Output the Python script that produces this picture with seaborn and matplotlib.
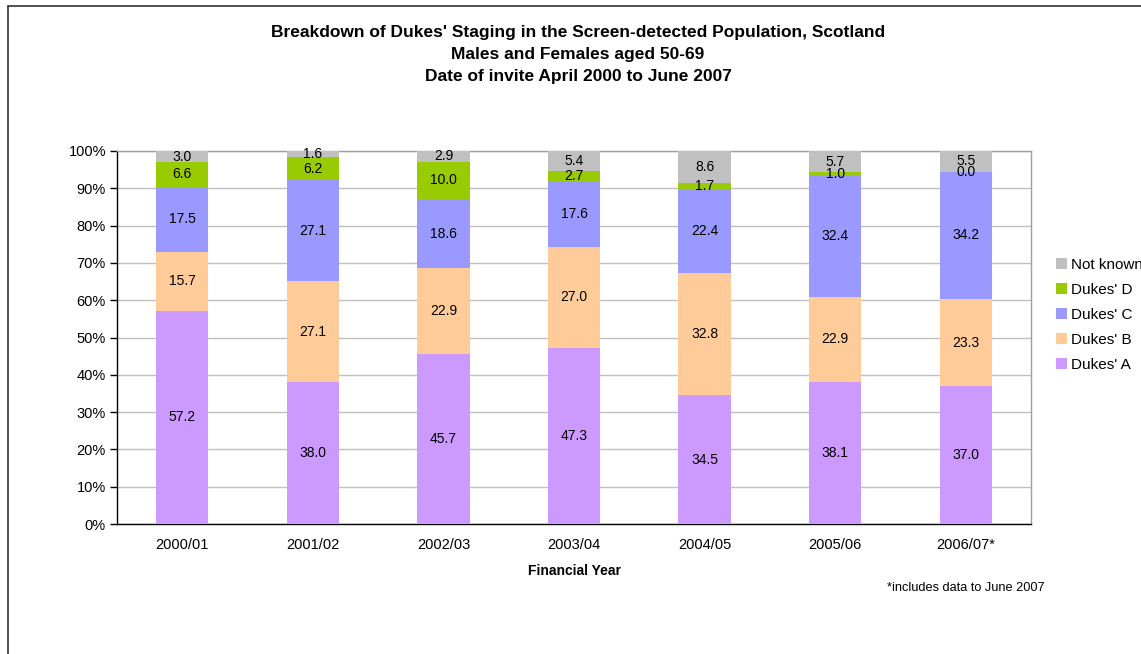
import numpy as np
import pandas as pd
import matplotlib
matplotlib.use("Agg")
import matplotlib.pyplot as plt
from matplotlib.lines import Line2D
from matplotlib.patches import Patch
import seaborn as sns

years = ["2000/01", "2001/02", "2002/03", "2003/04", "2004/05", "2005/06", "2006/07*"]
dukes_a = [57.2, 38.0, 45.7, 47.3, 34.5, 38.1, 37.0]
dukes_b = [15.7, 27.1, 22.9, 27.0, 32.8, 22.9, 23.3]
dukes_c = [17.5, 27.1, 18.6, 17.6, 22.4, 32.4, 34.2]
dukes_d = [6.6, 6.2, 10.0, 2.7, 1.7, 1.0, 0.0]
not_known = [3.0, 1.6, 2.9, 5.4, 8.6, 5.7, 5.5]

series_names = ["Dukes' A", "Dukes' B", "Dukes' C", "Dukes' D", "Not known"]
series_vals = [dukes_a, dukes_b, dukes_c, dukes_d, not_known]
colors = ["#CC99FF", "#FFCC99", "#9999FF", "#99CC00", "#C0C0C0"]

sns.set_theme(style="white")
plt.rcParams['font.family'] = ['Liberation Sans', 'DejaVu Sans']
plt.rcParams['text.color'] = 'black'
plt.rcParams['axes.labelcolor'] = 'black'
plt.rcParams['xtick.color'] = 'black'
plt.rcParams['ytick.color'] = 'black'

fig = plt.figure(figsize=(11.41, 6.54), dpi=100)
ax = fig.add_axes([117/1141, 1-524/654, (1031-117)/1141, (524-151)/654])

vals = np.array(series_vals)
cum = np.cumsum(vals, axis=0)
totals = cum[-1]
pct = vals / totals * 100
cum_pct = np.cumsum(pct, axis=0)

# draw cumulative bars from top down so each overlays the previous
for i in range(len(series_names) - 1, -1, -1):
    df = pd.DataFrame({"year": years, "value": cum_pct[i]})
    sns.barplot(data=df, x="year", y="value", color=colors[i], width=0.4,
                saturation=1, ax=ax, zorder=3, linewidth=0, edgecolor="none")

# labels
for i in range(len(series_names)):
    for j in range(len(years)):
        bottom = cum_pct[i][j] - pct[i][j]
        ymid = bottom + pct[i][j] / 2
        ax.text(j, ymid, f"{series_vals[i][j]:.1f}", ha="center", va="center",
                fontsize=10, color="black", zorder=5)

ax.set_xlim(-0.5, len(years) - 0.5)
ax.set_ylim(0, 100)
ax.set_yticks(np.arange(0, 101, 10))
ax.set_yticklabels([f"{v}%" for v in range(0, 101, 10)], fontsize=10.5)
ax.yaxis.grid(True, color="#C0C0C0", linewidth=1, zorder=0)
ax.set_axisbelow(True)
ax.set_xticks(range(len(years)))
ax.set_xticklabels(years, fontsize=10.5)
ax.set_xticks(np.arange(-0.5, len(years), 1), minor=True)
ax.tick_params(axis="x", which="major", length=0, pad=10)
ax.tick_params(axis="x", which="minor", length=5, width=1, color="black", direction="out")
ax.tick_params(axis="y", which="major", length=5, width=1, color="black", direction="out", left=True, pad=3)
ax.set_xlabel("Financial Year", fontsize=10, fontweight="bold", labelpad=9)
ax.set_ylabel("")
for side in ["left", "bottom"]:
    ax.spines[side].set_color("black")
    ax.spines[side].set_linewidth(1)
for side in ["right", "top"]:
    ax.spines[side].set_color("#A0A0A0")
    ax.spines[side].set_linewidth(1)

fig.text(578/1141, 1-33/654, "Breakdown of Dukes' Staging in the Screen-detected Population, Scotland",
         ha="center", va="center", fontsize=12.5, fontweight="bold")
fig.text(578/1141, 1-55/654, "Males and Females aged 50-69",
         ha="center", va="center", fontsize=12.5, fontweight="bold")
fig.text(578/1141, 1-76/654, "Date of invite April 2000 to June 2007",
         ha="center", va="center", fontsize=12.5, fontweight="bold")

fig.text(1045/1141, 1-588/654, "*includes data to June 2007", ha="right", va="center", fontsize=9.2)

handles = [Patch(facecolor=colors[i], edgecolor="none") for i in range(len(series_names) - 1, -1, -1)]
labels = [series_names[i] for i in range(len(series_names) - 1, -1, -1)]
fig.legend(handles, labels, loc="upper left", bbox_to_anchor=(1056/1141, 1-258/654),
           frameon=False, fontsize=11, handlelength=0.75, handleheight=0.75,
           handletextpad=0.25, labelspacing=0.72, borderaxespad=0, borderpad=0)

# outer chart frame (left and top edges visible)
fig.add_artist(Line2D([7.5/1141, 7.5/1141], [0, 1-5.5/654], color="#333333", linewidth=1.2, transform=fig.transFigure))
fig.add_artist(Line2D([7.5/1141, 1], [1-5.5/654, 1-5.5/654], color="#333333", linewidth=1.2, transform=fig.transFigure))

fig.savefig("out.png", dpi=100)
